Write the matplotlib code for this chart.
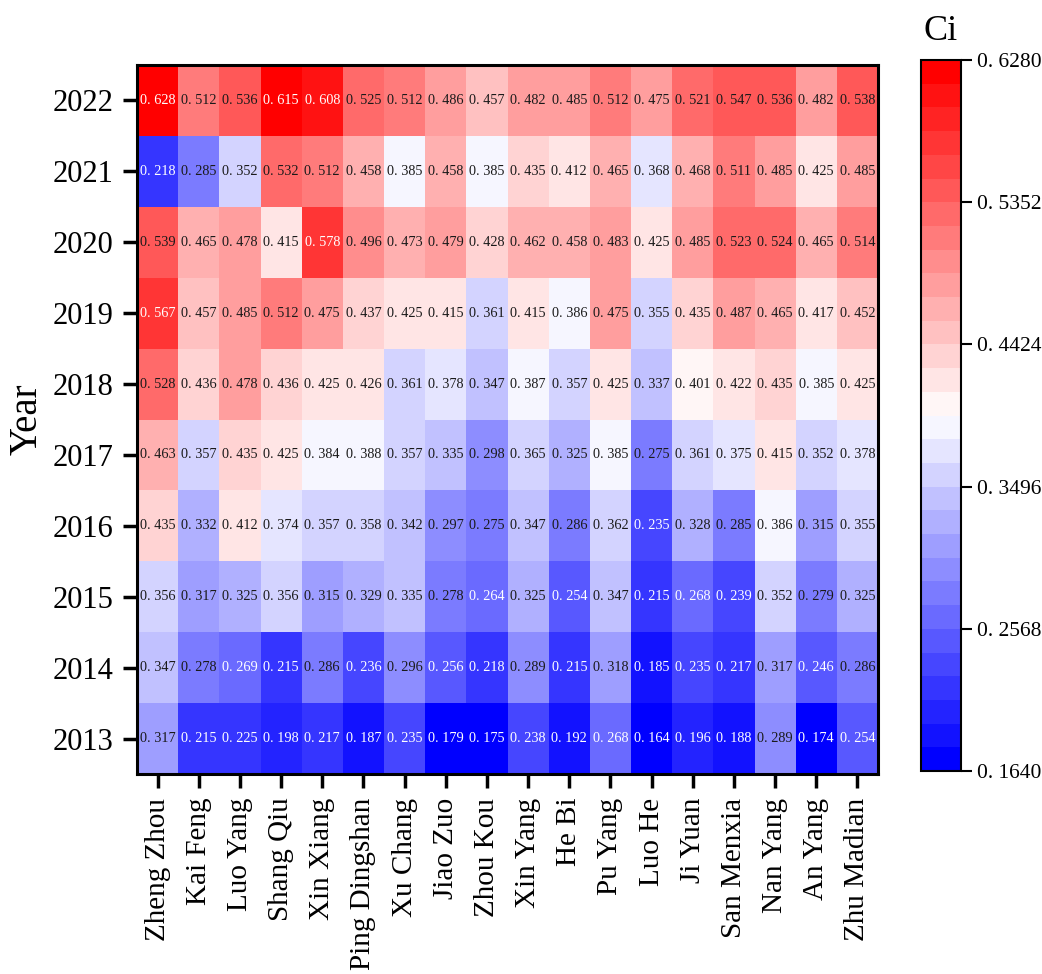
import matplotlib
matplotlib.use('Agg')
import matplotlib.pyplot as plt
import numpy as np
from matplotlib.colors import BoundaryNorm

plt.rcParams['font.family'] = ['Liberation Serif', 'DejaVu Serif']

cities = ['Zheng Zhou', 'Kai Feng', 'Luo Yang', 'Shang Qiu', 'Xin Xiang', 'Ping Dingshan',
          'Xu Chang', 'Jiao Zuo', 'Zhou Kou', 'Xin Yang', 'He Bi', 'Pu Yang', 'Luo He',
          'Ji Yuan', 'San Menxia', 'Nan Yang', 'An Yang', 'Zhu Madian']
years = ['2022', '2021', '2020', '2019', '2018', '2017', '2016', '2015', '2014', '2013']

ci_2022 = [0.628, 0.512, 0.536, 0.615, 0.608, 0.525, 0.512, 0.486, 0.457, 0.482, 0.485, 0.512, 0.475, 0.521, 0.547, 0.536, 0.482, 0.538]
ci_2021 = [0.218, 0.285, 0.352, 0.532, 0.512, 0.458, 0.385, 0.458, 0.385, 0.435, 0.412, 0.465, 0.368, 0.468, 0.511, 0.485, 0.425, 0.485]
ci_2020 = [0.539, 0.465, 0.478, 0.415, 0.578, 0.496, 0.473, 0.479, 0.428, 0.462, 0.458, 0.483, 0.425, 0.485, 0.523, 0.524, 0.465, 0.514]
ci_2019 = [0.567, 0.457, 0.485, 0.512, 0.475, 0.437, 0.425, 0.415, 0.361, 0.415, 0.386, 0.475, 0.355, 0.435, 0.487, 0.465, 0.417, 0.452]
ci_2018 = [0.528, 0.436, 0.478, 0.436, 0.425, 0.426, 0.361, 0.378, 0.347, 0.387, 0.357, 0.425, 0.337, 0.401, 0.422, 0.435, 0.385, 0.425]
ci_2017 = [0.463, 0.357, 0.435, 0.425, 0.384, 0.388, 0.357, 0.335, 0.298, 0.365, 0.325, 0.385, 0.275, 0.361, 0.375, 0.415, 0.352, 0.378]
ci_2016 = [0.435, 0.332, 0.412, 0.374, 0.357, 0.358, 0.342, 0.297, 0.275, 0.347, 0.286, 0.362, 0.235, 0.328, 0.285, 0.386, 0.315, 0.355]
ci_2015 = [0.356, 0.317, 0.325, 0.356, 0.315, 0.329, 0.335, 0.278, 0.264, 0.325, 0.254, 0.347, 0.215, 0.268, 0.239, 0.352, 0.279, 0.325]
ci_2014 = [0.347, 0.278, 0.269, 0.215, 0.286, 0.236, 0.296, 0.256, 0.218, 0.289, 0.215, 0.318, 0.185, 0.235, 0.217, 0.317, 0.246, 0.286]
ci_2013 = [0.317, 0.215, 0.225, 0.198, 0.217, 0.187, 0.235, 0.179, 0.175, 0.238, 0.192, 0.268, 0.164, 0.196, 0.188, 0.289, 0.174, 0.254]

data = np.array([ci_2022, ci_2021, ci_2020, ci_2019, ci_2018,
                 ci_2017, ci_2016, ci_2015, ci_2014, ci_2013])

vmin, vmax = 0.164, 0.628
levels = np.linspace(vmin, vmax, 31)
cmap = plt.get_cmap('bwr', 30)
norm = BoundaryNorm(levels, cmap.N)

fig = plt.figure(figsize=(10.42, 9.74), dpi=100)
ax = fig.add_axes([137 / 1042, 1 - 774 / 974, 741 / 1042, 709 / 974])
cax = fig.add_axes([921 / 1042, 1 - 771 / 974, 40 / 1042, 711 / 974])

mesh = ax.pcolormesh(data, cmap=cmap, norm=norm)
ax.set_xlim(0, len(cities))
ax.set_ylim(len(years), 0)

# value labels; white on the darkest cells
for i in range(len(years)):
    for j in range(len(cities)):
        v = data[i, j]
        color = 'white' if (v < 0.27 or v > 0.56) else '#1a1a1a'
        ax.text(j + 0.5, i + 0.5, '0. ' + f'{v:.3f}'[2:], ha='center', va='center',
                fontsize=10.3, color=color)

ax.set_xticks(np.arange(len(cities)) + 0.5)
ax.set_xticklabels(cities, rotation=90, fontsize=21)
ax.set_yticks(np.arange(len(years)) + 0.5)
ax.set_yticklabels(years, fontsize=22)
ax.set_ylabel('Year', fontsize=28, labelpad=5)
ax.tick_params(direction='out', length=10, width=2.5, pad=7)
for s in ax.spines.values():
    s.set_linewidth(2.2)

cb = fig.colorbar(mesh, cax=cax, boundaries=levels)
cb.minorticks_off()
ticks = np.linspace(vmin, vmax, 6)
cb.set_ticks(ticks)
cb.set_ticklabels(['0. ' + f'{t:.4f}'[2:] for t in ticks])
cb.ax.tick_params(labelsize=15.5, length=8, width=1.5)
cb.outline.set_linewidth(1.5)
fig.text(941 / 1042, 1 - 32 / 974, 'Ci', fontsize=26, ha='center', va='center')

plt.savefig('out.png', dpi=100)
plt.close()
